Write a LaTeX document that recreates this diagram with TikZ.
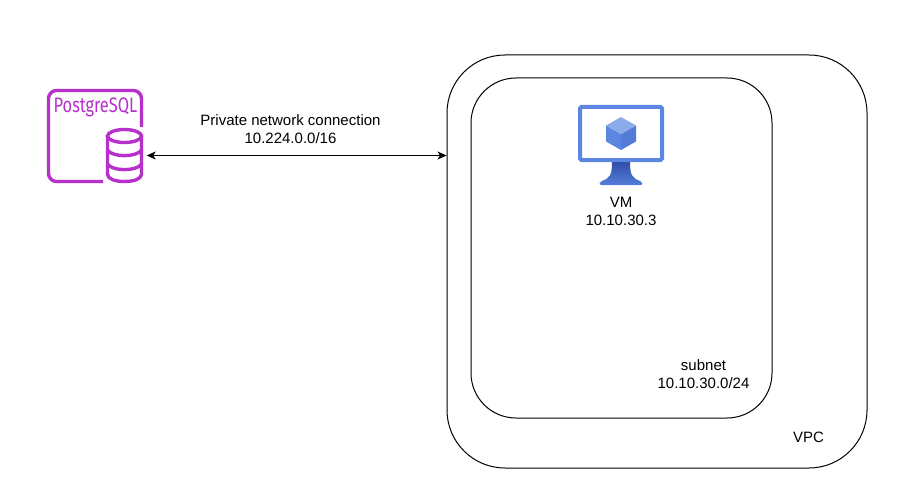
\documentclass[tikz,border=0pt]{standalone}
\usepackage{fontspec}
\setmainfont{Liberation Sans}
\newfontfamily\pgfont{Fira Sans}
\usepackage{xcolor}
\usetikzlibrary{arrows.meta}
\definecolor{pgpurple}{HTML}{B730CC}
\definecolor{vmblue}{HTML}{5B87E3}
\definecolor{vmdark}{HTML}{2F4FA8}
\tikzstyle{netbox} = [draw=black, line width=1pt, fill=white, rectangle, inner sep=0pt]
\tikzstyle{netlabel} = [align=center, font=\fontsize{15pt}{18pt}\selectfont, inner sep=0pt]
\tikzstyle{pgline} = [draw=pgpurple, line width=3.4pt]

\begin{document}
\begin{tikzpicture}[x=1pt, y=-1pt]
        \useasboundingbox (0,0) rectangle (902,500);
        % network boxes
        \node [netbox, rounded corners=58pt, minimum width=420pt, minimum height=413pt] (vpc) at (657,261.5) {};
        \node [netbox, rounded corners=45pt, minimum width=301pt, minimum height=340pt] (subnet) at (621.5,248) {};
        \node [netlabel] (vpclabel) at (808.5,437) {VPC};
        \node [netlabel] (subnetlabel) at (703.5,374) {subnet\\10.10.30.0/24};
        % postgres icon
        \draw [pgline, rounded corners=8pt] (141.5,127) -- (141.5,90.5) -- (48.5,90.5) -- (48.5,181.5) -- (103,181.5);
        \node [inner sep=0pt, text=pgpurple, font=\pgfont\fontsize{21pt}{21pt}\selectfont, xscale=0.78] (pglabel) at (95.5,107) {PostgreSQL};
        \node [minimum width=37pt, minimum height=55pt, inner sep=0pt] (pgdb) at (124.5,155.5) {};
        \draw [pgline, fill=white] (107.5,136) -- (107.5,174.5) .. controls (108,179) and (115,181.5) .. (124.5,181.5) .. controls (134,181.5) and (141,179) .. (141.5,174.5) -- (141.5,136);
        \draw [pgline, fill=white] (124.5,136) ellipse (17 and 6.5);
        \draw [pgline] (107.5,150) .. controls (112,157.5) and (137,157.5) .. (141.5,150);
        \draw [pgline] (107.5,164) .. controls (112,171.5) and (137,171.5) .. (141.5,164);
        % vm icon
        \node [draw=vmblue, line width=4pt, fill=white, rounded corners=1.5pt, minimum width=82pt, minimum height=53pt, inner sep=0pt] (monitor) at (621,133.5) {};
        \shade [top color=vmdark, bottom color=vmblue!85!vmdark] (612,162) -- (630,162) .. controls (630,175) and (632,178) .. (640,181) .. controls (643,183) and (643,185) .. (641,185) -- (601,185) .. controls (599,185) and (599,183) .. (602,181) .. controls (610,178) and (612,175) .. (612,162) -- cycle;
        \fill [vmblue] (621,134) -- (606,125.5) -- (606,141.5) -- (621,150) -- cycle;
        \fill [vmblue!80!vmdark] (621,134) -- (636,125.5) -- (636,141.5) -- (621,150) -- cycle;
        \fill [vmblue!70!white] (621,117) -- (636,125.5) -- (621,134) -- (606,125.5) -- cycle;
        \node [netlabel] (vmlabel) at (621,211.5) {VM\\10.10.30.3};
        % connection
        \coordinate (linkend) at (vpc.west |- pgdb.east);
        \draw [{Stealth[length=9pt,width=8pt,inset=2.5pt]}-{Stealth[length=9pt,width=8pt,inset=2.5pt]}, line width=0.8pt, shorten <=3.5pt] (pgdb.east) -- (linkend);
        \node [netlabel] (linklabel) at (290.5,129.5) {Private network connection\\10.224.0.0/16};
    \end{tikzpicture}
\end{document}
